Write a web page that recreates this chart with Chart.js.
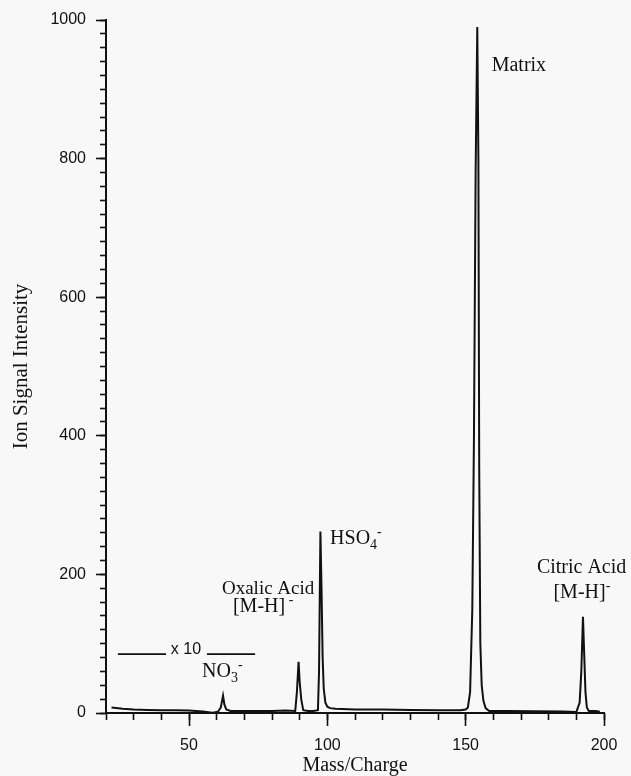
<!DOCTYPE html>
<html>
<head>
<meta charset="utf-8">
<title>Ion Signal Intensity vs Mass/Charge</title>
<script src="https://cdn.jsdelivr.net/npm/chart.js@4.4.0/dist/chart.umd.min.js"></script>
<style>
  html, body { margin: 0; padding: 0; background: #f8f8f8; }
  #wrap { width: 631px; height: 776px; position: relative; }
</style>
</head>
<body>
<div id="wrap"><canvas id="spectrum"></canvas></div>
<script>
// spectrum (m/z, signal)
const massCharge = [
  22, 26, 30, 35, 40, 45, 50, 55, 58.5, 60.5, 61.5, 62.3, 62.8, 63.5, 65,
  70, 75, 80, 85, 88.4, 89, 89.6, 90, 90.6, 91.3, 93, 95,
  96.6, 97, 97.5, 97.9, 98.3, 98.7, 99.3, 100, 101, 103,
  110, 120, 130, 140, 148, 150, 150.8, 151.6, 152.4, 153, 153.6, 154.2,
  154.6, 154.9, 155.3, 155.8, 156.4, 157.2, 158.5, 165, 175, 185, 190,
  191.2, 191.8, 192.4, 192.8, 193.3, 193.8, 194.5, 197, 198.5
];
const signal = [
  8, 6, 5, 4.5, 4, 4, 3.5, 2, 0.5, 2, 8, 25, 12, 5, 3,
  3, 3, 3, 3.5, 3, 30, 74, 45, 19, 4, 3, 3,
  4, 60, 262, 180, 80, 35, 15, 9, 7, 6,
  5, 5, 4.5, 4, 4, 5, 8, 30, 150, 400, 780, 990,
  800, 350, 100, 40, 18, 7, 3, 3, 2.5, 2, 1.5,
  15, 60, 139, 90, 30, 8, 3, 3, 2
];

// axis ticks
const xMajorTicks = [50, 100, 150, 200];
const yMajorTicks = [0, 200, 400, 600, 800, 1000];

// peak labels, anchored in data units
const peakNotes = [
  { parts: [['Matrix', 0]], x: 159.4, y: 934, align: 'left' },
  { parts: [['HSO', 0], ['4', -1], ['-', 1]], x: 101, y: 251, align: 'left' },
  { parts: [['Oxalic Acid', 0]], x: 78.6, y: 179, align: 'center', size: 19 },
  { parts: [['[M-H]', 0], [' -', 1]], x: 76.8, y: 153, align: 'center' },
  { parts: [['NO', 0], ['3', -1], ['-', 1]], x: 54.7, y: 59, align: 'left' },
  { parts: [['Citric Acid', 0]], x: 191.9, y: 210, align: 'center' },
  { parts: [['[M-H]', 0], ['-', 1]], x: 192, y: 173, align: 'center' }
];

// "x 10" scale marker
const xTenLeft = [24.3, 41.7];
const xTenRight = [56.5, 73.9];
const xTenY = 85;
const xTenText = 48.9;

const serif = '"Liberation Serif", "Times New Roman", serif';
const sans = '"Liberation Sans", Arial, sans-serif';
const ink = '#111';

const paperBg = {
  id: 'paperBg',
  beforeDraw(chart) {
    const c = chart.ctx;
    c.save();
    c.fillStyle = '#f8f8f8';
    c.fillRect(0, 0, chart.width, chart.height);
    c.restore();
  }
};

const notesPlugin = {
  id: 'notes',
  afterDatasetsDraw(chart) {
    const c = chart.ctx;
    const xs = chart.scales.x, ys = chart.scales.y;
    c.save();
    c.fillStyle = ink;
    c.textBaseline = 'middle';
    c.textAlign = 'left';

    peakNotes.forEach(n => {
      const size = n.size || 20;
      const fontFor = lvl => (lvl === 0 ? size : Math.round(size * 0.7)) + 'px ' + serif;
      let total = 0;
      n.parts.forEach(p => { c.font = fontFor(p[1]); total += c.measureText(p[0]).width; });
      let px = xs.getPixelForValue(n.x);
      const py = ys.getPixelForValue(n.y);
      if (n.align === 'center') px -= total / 2;
      n.parts.forEach(p => {
        c.font = fontFor(p[1]);
        const dy = p[1] === -1 ? size * 0.3 : p[1] === 1 ? -size * 0.35 : 0;
        c.fillText(p[0], px, py + dy);
        px += c.measureText(p[0]).width;
      });
    });

    // x 10 marker
    c.strokeStyle = ink;
    c.lineWidth = 1.6;
    const my = ys.getPixelForValue(xTenY);
    [xTenLeft, xTenRight].forEach(seg => {
      c.beginPath();
      c.moveTo(xs.getPixelForValue(seg[0]), my);
      c.lineTo(xs.getPixelForValue(seg[1]), my);
      c.stroke();
    });
    c.font = '16px ' + sans;
    c.textAlign = 'center';
    c.fillText('x 10', xs.getPixelForValue(xTenText), my - 5);
    c.restore();
  }
};

const points = massCharge.map((m, i) => ({ x: m, y: signal[i] }));

new Chart(document.getElementById('spectrum'), {
  type: 'line',
  data: {
    datasets: [{
      data: points,
      borderColor: ink,
      borderWidth: 2,
      pointRadius: 0,
      tension: 0,
      fill: false,
      xAxisID: 'x',
      yAxisID: 'y'
    }]
  },
  options: {
    responsive: true,
    maintainAspectRatio: false,
    animation: false,
    layout: { padding: { top: 20, right: 27, bottom: 0, left: 0 } },
    plugins: { legend: { display: false }, tooltip: { enabled: false } },
    scales: {
      x: {
        type: 'linear', position: 'bottom', min: 20, max: 200, weight: 1,
        afterBuildTicks: s => { s.ticks = xMajorTicks.map(v => ({ value: v })); },
        afterFit: s => { s.height = 63; },
        ticks: { color: ink, font: { family: sans, size: 16 }, padding: 10, maxRotation: 0,
                 autoSkip: false, callback: v => String(v) },
        grid: { drawOnChartArea: false, drawTicks: true, tickLength: 13, tickColor: ink, tickWidth: 1.6 },
        border: { display: true, color: ink, width: 2 },
        title: { display: true, text: 'Mass/Charge', color: ink,
                 font: { family: serif, size: 20, lineHeight: 1 }, padding: { top: 0, bottom: 0 } }
      },
      x2: {
        type: 'linear', position: 'bottom', min: 20, max: 200, weight: 0,
        ticks: { display: false, stepSize: 10, autoSkip: false },
        afterFit: s => { s.height = 0; },
        grid: { drawOnChartArea: false, drawTicks: true, tickLength: 7, tickColor: ink, tickWidth: 1.6 },
        border: { display: false }
      },
      y: {
        type: 'linear', position: 'left', min: 0, max: 1000, weight: 1,
        afterBuildTicks: s => { s.ticks = yMajorTicks.map(v => ({ value: v })); },
        afterFit: s => { s.width = 106; },
        ticks: { color: ink, font: { family: sans, size: 16 }, padding: 10, autoSkip: false,
                 callback: v => String(v) },
        grid: { drawOnChartArea: false, drawTicks: true, tickLength: 10, tickColor: ink, tickWidth: 1.6 },
        border: { display: true, color: ink, width: 2 },
        title: { display: true, text: 'Ion Signal Intensity', color: ink,
                 font: { family: serif, size: 21, lineHeight: 1 }, padding: { top: 11, bottom: 0 } }
      },
      y2: {
        type: 'linear', position: 'left', min: 0, max: 1000, weight: 0,
        ticks: { display: false, stepSize: 20, autoSkip: false },
        afterFit: s => { s.width = 0; },
        grid: { drawOnChartArea: false, drawTicks: true, tickLength: 6, tickColor: ink, tickWidth: 1.6 },
        border: { display: false }
      }
    }
  },
  plugins: [paperBg, notesPlugin]
});
</script>
</body>
</html>
